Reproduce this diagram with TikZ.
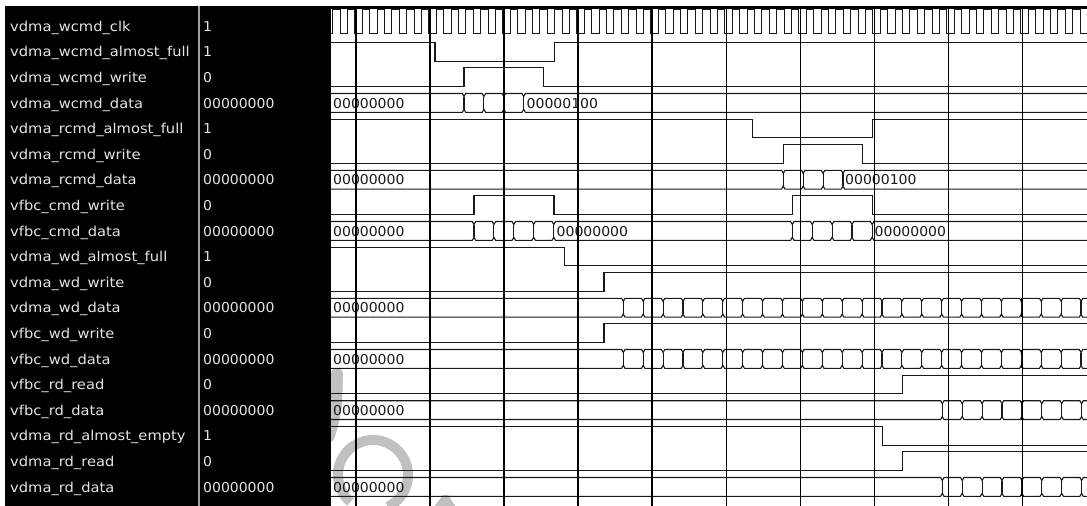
\documentclass[tikz,border=0pt]{standalone}
\usepackage{fontspec}
\newfontfamily\wf[FakeStretch=1.08]{DejaVu Sans}
\newfontfamily\wfd[FakeStretch=1.03]{DejaVu Sans}
\definecolor{wm}{RGB}{192,192,192}
\definecolor{lab}{RGB}{228,228,228}
\definecolor{divc}{RGB}{160,160,160}
\definecolor{ink}{RGB}{25,25,25}
% bus row: top y, bottom y, list of transition x
\newcommand\busw[3]{%
  \draw[wave] (331,#1) foreach \x in {#3} { -- (\x-1.7,#1) -- (\x,#1+3) -- (\x+1.7,#1) } -- (1087,#1);
  \draw[wave] (331,#2) foreach \x in {#3} { -- (\x-1.7,#2) -- (\x,#2-3) -- (\x+1.7,#2) } -- (1087,#2);
  \foreach \x in {#3} \draw[wave] (\x,#1+3) -- (\x,#2-3);
}
\newcommand\blobmark[3]{%
  \fill[black] (#1-1.4,#2) rectangle (#1+1.4,#2+5);
  \fill[black] (#1-1.4,#3-5) rectangle (#1+1.4,#3);
}
\begin{document}
\begin{tikzpicture}[x=1pt,y=-1pt,
  wave/.style={line width=1.1pt, ink, line join=miter},
  gridl/.style={line width=1.3pt, black},
  lbl/.style={anchor=base west, inner sep=0pt, text=lab, font=\wf\fontsize{13.6}{15}\selectfont},
  vbl/.style={anchor=base west, inner sep=0pt, text=lab, font=\wfd\fontsize{13.6}{15}\selectfont},
  btxt/.style={anchor=base west, inner sep=0pt, text=ink, font=\wfd\fontsize{13.6}{15}\selectfont}]
\useasboundingbox (0,0) rectangle (1087,506);
\fill[white] (0,0) rectangle (1087,506);
\begin{scope}
\clip (0,0) rectangle (1087,506);
% watermark
\draw[wm, line width=12pt, line cap=round] (329,436) .. controls (336,410) .. (337,374);
\draw[wm, line width=10pt] (373,475) ++(130:35) arc[start angle=130, end angle=425, radius=35];
\fill[wm] (434,507) -- (443,495) -- (448,495) -- (456,507) -- cycle;
% left panel
\fill[black] (5,6) rectangle (330.5,506);
\fill[black] (330,6) rectangle (1087,8.5);
\draw[divc, line width=1.5pt] (199,6) -- (199,506);
\end{scope}
% names and values
\foreach \n [count=\i from 0] in {vdma\_wcmd\_clk,vdma\_wcmd\_almost\_full,vdma\_wcmd\_write,vdma\_wcmd\_data,vdma\_rcmd\_almost\_full,vdma\_rcmd\_write,vdma\_rcmd\_data,vfbc\_cmd\_write,vfbc\_cmd\_data,vdma\_wd\_almost\_full,vdma\_wd\_write,vdma\_wd\_data,vfbc\_wd\_write,vfbc\_wd\_data,vfbc\_rd\_read,vfbc\_rd\_data,vdma\_rd\_almost\_empty,vdma\_rd\_read,vdma\_rd\_data}
  \node[lbl] (n\i) at (10,{31.3+25.6*\i}) {\n};
\foreach \v [count=\i from 0] in {1,1,0,00000000,1,0,00000000,0,00000000,1,0,00000000,0,00000000,0,00000000,1,0,00000000}
  \node[vbl] (v\i) at (203,{31.3+25.6*\i}) {\v};
% bus texts
\node[btxt] (t3a) at (333,108.1) {00000000};
\node[btxt] (t3b) at (526.5,108.1) {00000100};
\node[btxt] (t6a) at (333,184.9) {00000000};
\node[btxt] (t6b) at (845,184.9) {00000100};
\node[btxt] (t8a) at (333,236.1) {00000000};
\node[btxt] (t8b) at (556.5,236.1) {00000000};
\node[btxt] (t8c) at (874.5,236.1) {00000000};
\node[btxt] (t11) at (333,312.9) {00000000};
\node[btxt] (t13) at (333,364.1) {00000000};
\node[btxt] (t15) at (333,415.3) {00000000};
\node[btxt] (t18) at (333,492.1) {00000000};
% clock
\begin{scope}
\clip (331,0) rectangle (1087,506);
\draw[wave] (331,33.5) foreach \k in {0,...,51} { -- ({332.7+14.8*\k},33.5) -- ({332.7+14.8*\k},9.5) -- ({340.1+14.8*\k},9.5) -- ({340.1+14.8*\k},33.5) };
\end{scope}
% single-bit signals
\draw[wave] (331,42.3) -- (435,42.3) -- (435,61.1) -- (554.5,61.1) -- (554.5,42.3) -- (1087,42.3);
\draw[wave] (331,86.7) -- (464,86.7) -- (464,67.9) -- (543.6,67.9) -- (543.6,86.7) -- (1087,86.7);
\draw[wave] (331,119.1) -- (752.7,119.1) -- (752.7,137.9) -- (872.5,137.9) -- (872.5,119.1) -- (1087,119.1);
\draw[wave] (331,163.5) -- (783.3,163.5) -- (783.3,144.7) -- (862.7,144.7) -- (862.7,163.5) -- (1087,163.5);
\draw[wave] (331,214.7) -- (474,214.7) -- (474,195.9) -- (554,195.9) -- (554,214.7) -- (792.3,214.7) -- (792.3,195.9) -- (872.3,195.9) -- (872.3,214.7) -- (1087,214.7);
\draw[wave] (331,247.1) -- (564.3,247.1) -- (564.3,265.9) -- (1087,265.9);
\draw[wave] (331,291.5) -- (604,291.5) -- (604,272.7) -- (1087,272.7);
\draw[wave] (331,342.7) -- (604,342.7) -- (604,323.9) -- (1087,323.9);
\draw[wave] (331,393.9) -- (902.7,393.9) -- (902.7,375.1) -- (1087,375.1);
\draw[wave] (331,426.3) -- (882.3,426.3) -- (882.3,445.1) -- (1087,445.1);
\draw[wave] (331,470.7) -- (902.7,470.7) -- (902.7,451.9) -- (1087,451.9);
% buses
\busw{93.5}{112.3}{464,483.9,503.8,523.7}
\busw{170.3}{189.1}{783.3,803.2,823.1,843}
\busw{221.5}{240.3}{474,493.9,513.8,533.7,553.8,792.3,812.2,832.1,852,872.1}
\busw{298.3}{317.1}{623.3,643.2,...,1085}
\busw{349.5}{368.3}{623.3,643.2,...,1085}
\busw{400.7}{419.5}{942.3,962.2,...,1085}
\busw{477.5}{496.3}{942.3,962.2,...,1085}
% grid
\foreach \k in {0,...,9} \draw[gridl] ({355.9+74.05*\k},7) -- ({355.9+74.05*\k},506);
% overlap marks
\blobmark{504}{93.5}{112.3}
\blobmark{1021.9}{298.3}{317.1}
\blobmark{1021.9}{349.5}{368.3}
\blobmark{1021.9}{400.7}{419.5}
\blobmark{1021.9}{477.5}{496.3}
\end{tikzpicture}
\end{document}
